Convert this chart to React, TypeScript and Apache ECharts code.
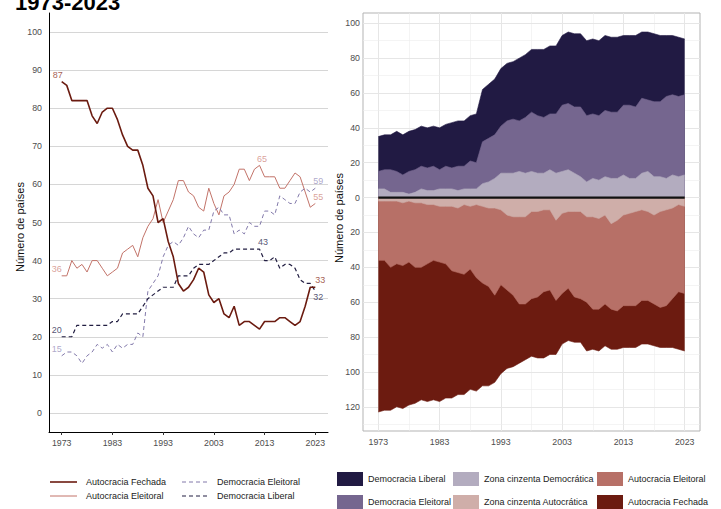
import React, { useEffect, useRef } from "react";
import * as echarts from "echarts";

const years = [
  1973, 1974, 1975, 1976, 1977, 1978, 1979, 1980, 1981, 1982,
  1983, 1984, 1985, 1986, 1987, 1988, 1989, 1990, 1991, 1992,
  1993, 1994, 1995, 1996, 1997, 1998, 1999, 2000, 2001, 2002,
  2003, 2004, 2005, 2006, 2007, 2008, 2009, 2010, 2011, 2012,
  2013, 2014, 2015, 2016, 2017, 2018, 2019, 2020, 2021, 2022,
  2023,
];

const autocraciaFechada = [
  87, 86, 82, 82, 82, 82, 78, 76, 79, 80,
  80, 77, 73, 70, 69, 69, 65, 59, 57, 50,
  51, 45, 41, 34, 32, 33, 35, 38, 37, 31,
  29, 30, 26, 25, 28, 23, 24, 24, 23, 22,
  24, 24, 24, 25, 25, 24, 23, 24, 28, 33,
  33,
];

const autocraciaEleitoral = [
  36, 36, 40, 38, 39, 37, 40, 40, 38, 36,
  37, 38, 42, 43, 44, 41, 46, 49, 51, 56,
  50, 53, 56, 61, 61, 58, 57, 54, 53, 59,
  55, 52, 57, 58, 60, 64, 64, 61, 64, 65,
  62, 62, 62, 59, 59, 61, 63, 62, 58, 54,
  55,
];

const democraciaEleitoral = [
  15, 16, 16, 15, 13, 15, 16, 18, 17, 18,
  16, 18, 17, 18, 18, 21, 20, 32, 34, 36,
  41, 44, 45, 44, 46, 49, 47, 46, 48, 48,
  53, 54, 52, 52, 47, 48, 47, 50, 49, 49,
  53, 53, 52, 57, 56, 55, 55, 58, 59, 58,
  59,
];

const democraciaLiberal = [
  20, 20, 20, 23, 23, 23, 23, 23, 23, 23,
  24, 24, 26, 26, 26, 26, 28, 30, 31, 32,
  33, 33, 33, 36, 36, 36, 38, 39, 39, 39,
  40, 41, 42, 42, 43, 43, 43, 43, 43, 43,
  40, 40, 41, 38, 39, 39, 38, 35, 34, 34,
  32,
];

// grey zones (subsets of the electoral categories)
const zonaCinzentaDemocratica = [
  5, 5, 3, 3, 3, 2, 3, 5, 4, 4,
  5, 5, 5, 4, 5, 5, 5, 8, 9, 11,
  14, 14, 14, 15, 14, 15, 14, 14, 16, 14,
  15, 16, 14, 12, 9, 11, 10, 12, 11, 11,
  13, 11, 11, 14, 15, 12, 12, 11, 13, 12,
  13,
];

const zonaCinzentaAutocratica = [
  2, 2, 2, 2, 3, 2, 3, 3, 4, 4,
  5, 5, 5, 6, 4, 5, 4, 5, 6, 6,
  7, 10, 11, 11, 11, 8, 8, 7, 7, 13,
  9, 8, 8, 8, 11, 11, 12, 10, 15, 13,
  10, 9, 8, 7, 8, 10, 8, 7, 6, 4,
  5,
];

const xTickYears = [1973, 1983, 1993, 2003, 2013, 2023];
const xMinorYears = [1978, 1988, 1998, 2008, 2018];
const leftYTicks = [0, 10, 20, 30, 40, 50, 60, 70, 80, 90, 100];
const rightYTicks = [-120, -100, -80, -60, -40, -20, 0, 20, 40, 60, 80, 100];
const rightYMinor = [-130, -110, -90, -70, -50, -30, -10, 10, 30, 50, 70, 90];

const FONT = "'Liberation Sans', Arial, Helvetica, sans-serif";

const COL = {
  af: "#6b1b10",
  ae: "#c27369",
  ed: "#8279aa",
  ld: "#221e42",
  afLabel: "#8e3426",
  aeLabel: "#d08a81",
  edLabel: "#9a92bd",
  ldLabel: "#2b2850",
  areaLD: "#211a43",
  areaED: "#75668f",
  areaGD: "#b3acbf",
  areaGA: "#cfaea9",
  areaAE: "#b77067",
  areaAF: "#6c1b10",
};

type LabelSpec = { year: number; offset: [number, number] };

function labelSeries(values: number[], color: string, specs: LabelSpec[]) {
  return {
    type: "scatter",
    xAxisIndex: 0,
    yAxisIndex: 0,
    silent: true,
    z: 6,
    symbol: "circle",
    symbolSize: 1,
    itemStyle: { color: "rgba(0,0,0,0)" },
    data: specs.map((s) => {
      const i = years.indexOf(s.year);
      return {
        value: [years[i], values[i]],
        label: {
          show: true,
          position: "inside",
          offset: s.offset,
          formatter: String(values[i]),
          color,
          fontSize: 9,
          fontFamily: FONT,
        },
      };
    }),
  };
}

function lineSeries(name: string, values: number[], color: string, width: number, dashed: boolean) {
  return {
    name,
    type: "line",
    xAxisIndex: 0,
    yAxisIndex: 0,
    silent: true,
    z: 3,
    symbol: "none",
    data: years.map((y, i) => [y, values[i]]),
    lineStyle: { color, width, type: dashed ? [4, 3] : "solid" },
    itemStyle: { color },
  };
}

// area filled from 0 to the cumulative boundary; later series overlay earlier ones
function areaSeries(name: string, data: number[][], color: string) {
  return {
    name,
    type: "line",
    xAxisIndex: 1,
    yAxisIndex: 1,
    silent: true,
    z: 3,
    symbol: "none",
    data,
    lineStyle: { color, width: 0.6 },
    areaStyle: { color, opacity: 1, origin: 0 },
    itemStyle: { color },
  };
}

export default function App() {
  const ref = useRef<HTMLDivElement>(null);

  useEffect(() => {
    document.body.style.margin = "0";
    if (!ref.current) return;
    const chart = echarts.init(ref.current, undefined, { renderer: "svg" });

    const axisLabelBase = {
      color: "#4d4d4d",
      fontSize: 8.8,
      fontFamily: FONT,
      formatter: (v: number) => String(v),
    };

    // cumulative boundaries for the diverging stacked chart
    const topGD = years.map((y, i) => [y, zonaCinzentaDemocratica[i]]);
    const topED = years.map((y, i) => [y, democraciaEleitoral[i]]);
    const topLD = years.map((y, i) => [y, democraciaEleitoral[i] + democraciaLiberal[i]]);
    const botGA = years.map((y, i) => [y, -zonaCinzentaAutocratica[i]]);
    const botAE = years.map((y, i) => [y, -autocraciaEleitoral[i]]);
    const botAF = years.map((y, i) => [y, -(autocraciaEleitoral[i] + autocraciaFechada[i])]);

    const leftLegendY1 = 482;
    const leftLegendY2 = 496;
    const rightLegendY1 = 479;
    const rightLegendY2 = 502;

    const legendText = (text: string, x: number, y: number) => ({
      type: "text",
      x,
      y,
      silent: true,
      style: { text, fill: "#222", fontSize: 9, fontFamily: FONT, align: "left", verticalAlign: "middle" },
    });
    const legendLine = (x: number, y: number, color: string, width: number, dashed: boolean) => ({
      type: "line",
      silent: true,
      shape: { x1: x, y1: y, x2: x + 27, y2: y },
      style: { stroke: color, lineWidth: width, lineDash: dashed ? [4, 3] : null },
    });
    const legendRect = (x: number, y: number, color: string) => ({
      type: "rect",
      silent: true,
      shape: { x, y: y - 7, width: 26, height: 14 },
      style: { fill: color },
    });

    const option: any = {
      animation: false,
      grid: [
        { left: 49, top: 13, width: 279, height: 419, outerBoundsMode: "none", show: false },
        {
          left: 363,
          top: 13,
          width: 337,
          height: 418,
          outerBoundsMode: "none",
          show: true,
          borderColor: "#b3b3b3",
          borderWidth: 1,
          backgroundColor: "rgba(0,0,0,0)",
        },
      ],
      xAxis: [
        {
          gridIndex: 0,
          type: "value",
          min: 1970.5,
          max: 2025.5,
          axisLine: { show: true, onZero: false, lineStyle: { color: "#000", width: 1 } },
          axisTick: { show: true, customValues: xTickYears, length: 3, lineStyle: { color: "#333" } },
          axisLabel: { ...axisLabelBase, customValues: xTickYears, margin: 6 },
          splitLine: { show: false },
        },
        {
          gridIndex: 1,
          type: "value",
          min: 1970.5,
          max: 2025.5,
          axisLine: { show: false, onZero: false },
          axisTick: { show: false },
          axisLabel: { ...axisLabelBase, customValues: xTickYears, margin: 6 },
          splitLine: { show: false },
        },
      ],
      yAxis: [
        {
          gridIndex: 0,
          type: "value",
          min: -5,
          max: 105,
          axisLine: { show: true, onZero: false, lineStyle: { color: "#000", width: 1 } },
          axisTick: { show: false },
          axisLabel: { ...axisLabelBase, customValues: leftYTicks, margin: 7 },
          splitLine: { show: false },
        },
        {
          gridIndex: 1,
          type: "value",
          min: -133.9,
          max: 105.9,
          axisLine: { show: false, onZero: false },
          axisTick: { show: false },
          axisLabel: {
            ...axisLabelBase,
            customValues: rightYTicks,
            margin: 3,
            formatter: (v: number) => String(Math.abs(v)),
          },
          splitLine: { show: false },
        },
      ],
      series: [
        // left grid lines
        {
          type: "line",
          xAxisIndex: 0,
          yAxisIndex: 0,
          silent: true,
          symbol: "none",
          data: [[years[0], 0]],
          lineStyle: { width: 0 },
          markLine: {
            z: 0,
            silent: true,
            symbol: ["none", "none"],
            label: { show: false },
            lineStyle: { color: "#d6d6d6", width: 1, type: "solid" },
            data: leftYTicks.map((v) => ({ yAxis: v })),
          },
        },
        // right grid lines
        {
          type: "line",
          xAxisIndex: 1,
          yAxisIndex: 1,
          silent: true,
          symbol: "none",
          data: [[years[0], 0]],
          lineStyle: { width: 0 },
          markLine: {
            z: 0,
            silent: true,
            symbol: ["none", "none"],
            label: { show: false },
            lineStyle: { color: "#e6e6e6", width: 1, type: "solid" },
            data: [
              ...xTickYears.map((v) => ({ xAxis: v })),
              ...xMinorYears.map((v) => ({ xAxis: v, lineStyle: { color: "#ededed", width: 0.6 } })),
              ...rightYTicks.map((v) => ({ yAxis: v })),
              ...rightYMinor.map((v) => ({ yAxis: v, lineStyle: { color: "#ededed", width: 0.6 } })),
            ],
          },
        },
        // left lines
        lineSeries("Autocracia Eleitoral", autocraciaEleitoral, COL.ae, 1, false),
        lineSeries("Democracia Eleitoral", democraciaEleitoral, COL.ed, 1, true),
        lineSeries("Democracia Liberal", democraciaLiberal, COL.ld, 1.2, true),
        lineSeries("Autocracia Fechada", autocraciaFechada, COL.af, 1.6, false),
        labelSeries(autocraciaFechada, COL.afLabel, [
          { year: 1973, offset: [-4, -7] },
          { year: 2023, offset: [5, -7] },
        ]),
        labelSeries(autocraciaEleitoral, COL.aeLabel, [
          { year: 1973, offset: [-5, -7] },
          { year: 2012, offset: [2.5, -6.5] },
          { year: 2023, offset: [3, -6.5] },
        ]),
        labelSeries(democraciaEleitoral, COL.edLabel, [
          { year: 1973, offset: [-5, -7] },
          { year: 2023, offset: [3, -7] },
        ]),
        labelSeries(democraciaLiberal, COL.ldLabel, [
          { year: 1973, offset: [-5, -7] },
          { year: 2012, offset: [3.5, -7] },
          { year: 2023, offset: [3, 6] },
        ]),
        // right diverging areas (outer first, inner on top)
        areaSeries("Democracia Liberal (área)", topLD, COL.areaLD),
        areaSeries("Democracia Eleitoral (área)", topED, COL.areaED),
        areaSeries("Zona cinzenta Democrática", topGD, COL.areaGD),
        areaSeries("Autocracia Fechada (área)", botAF, COL.areaAF),
        areaSeries("Autocracia Eleitoral (área)", botAE, COL.areaAE),
        areaSeries("Zona cinzenta Autocrática", botGA, COL.areaGA),
        {
          type: "line",
          xAxisIndex: 1,
          yAxisIndex: 1,
          silent: true,
          z: 5,
          symbol: "none",
          data: [
            [years[0], 0],
            [years[years.length - 1], 0],
          ],
          lineStyle: { color: "#111", width: 2.2 },
        },
      ],
      graphic: [
        {
          type: "text",
          x: 15,
          y: 2,
          silent: true,
          style: {
            text: "1973-2023",
            fill: "#000",
            fontSize: 22,
            fontWeight: "bold",
            fontFamily: FONT,
            align: "left",
            verticalAlign: "middle",
          },
        },
        {
          type: "text",
          x: 20,
          y: 227,
          rotation: Math.PI / 2,
          silent: true,
          style: {
            text: "Número de países",
            fill: "#111",
            fontSize: 11,
            fontFamily: FONT,
            align: "center",
            verticalAlign: "middle",
          },
        },
        {
          type: "text",
          x: 339,
          y: 218,
          rotation: Math.PI / 2,
          silent: true,
          style: {
            text: "Número de países",
            fill: "#111",
            fontSize: 11,
            fontFamily: FONT,
            align: "center",
            verticalAlign: "middle",
          },
        },
        // left legend
        legendLine(50, leftLegendY1, COL.af, 1.6, false),
        legendText("Autocracia Fechada", 86, leftLegendY1),
        legendLine(50, leftLegendY2, COL.ae, 1, false),
        legendText("Autocracia Eleitoral", 86, leftLegendY2),
        legendLine(182, leftLegendY1, COL.ed, 1, true),
        legendText("Democracia Eleitoral", 217, leftLegendY1),
        legendLine(182, leftLegendY2, COL.ld, 1.2, true),
        legendText("Democracia Liberal", 217, leftLegendY2),
        // right legend
        legendRect(337, rightLegendY1, COL.areaLD),
        legendText("Democracia Liberal", 368, rightLegendY1),
        legendRect(337, rightLegendY2, COL.areaED),
        legendText("Democracia Eleitoral", 368, rightLegendY2),
        legendRect(453, rightLegendY1, COL.areaGD),
        legendText("Zona cinzenta Democrática", 484, rightLegendY1),
        legendRect(453, rightLegendY2, COL.areaGA),
        legendText("Zona cinzenta Autocrática", 484, rightLegendY2),
        legendRect(597, rightLegendY1, COL.areaAE),
        legendText("Autocracia Eleitoral", 628, rightLegendY1),
        legendRect(597, rightLegendY2, COL.areaAF),
        legendText("Autocracia Fechada", 628, rightLegendY2),
      ],
    };

    chart.setOption(option);
    return () => {
      chart.dispose();
    };
  }, []);

  return <div ref={ref} style={{ width: 721, height: 509 }} />;
}
